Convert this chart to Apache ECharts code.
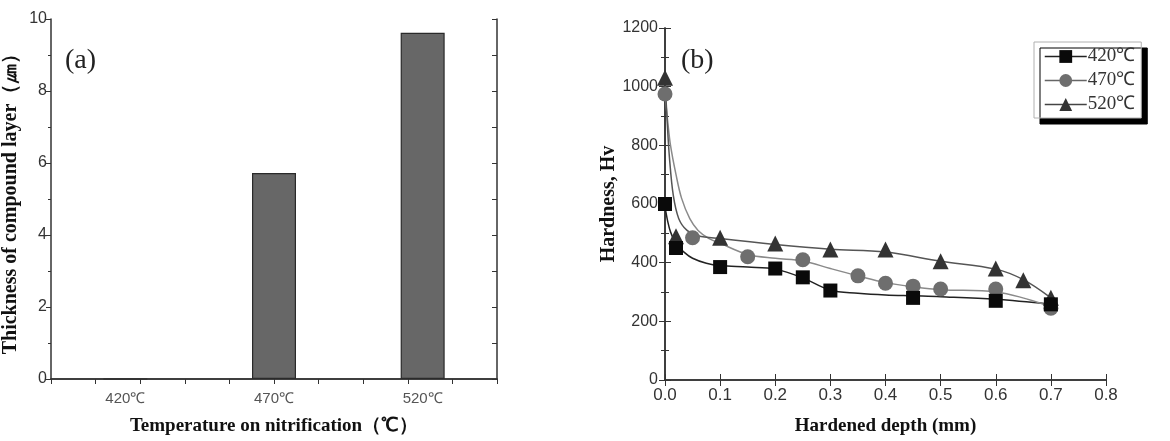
<!DOCTYPE html>
<html>
<head>
<meta charset="utf-8">
<script src="https://cdn.jsdelivr.net/npm/echarts@6/dist/echarts.min.js"></script>
<style>
  html, body { margin: 0; padding: 0; background: #fff; }
  #main { width: 1170px; height: 441px; }
</style>
</head>
<body>
<div id="main"></div>
<script>
// (a) thickness of compound layer
var tempCats = ['420℃', '470℃', '520℃'];
var thickness = [0, 5.72, 9.62];

// (b) hardness profile, measured points
var depth420 = [0, 0.02, 0.1, 0.2, 0.25, 0.3, 0.45, 0.6, 0.7];
var hv420 = [600, 450, 385, 380, 350, 305, 280, 270, 258];
var depth470 = [0, 0.05, 0.15, 0.25, 0.35, 0.4, 0.45, 0.5, 0.6, 0.7];
var hv470 = [975, 485, 420, 410, 355, 330, 320, 310, 310, 245];
var depth520 = [0, 0.02, 0.1, 0.2, 0.3, 0.4, 0.5, 0.6, 0.65, 0.7];
var hv520 = [1030, 490, 485, 465, 445, 445, 405, 380, 340, 280];

// fitted curves
var fitDepth420 = [0, 0.005, 0.01, 0.02, 0.035, 0.05, 0.075, 0.1, 0.15, 0.2, 0.25, 0.3, 0.35, 0.4, 0.45, 0.5, 0.6, 0.7];
var fitHv420 = [590, 540, 505, 465, 435, 415, 398, 390, 385, 378, 348, 306, 296, 290, 287, 284, 275, 258];
var fitDepth470 = [0, 0.005, 0.01, 0.02, 0.03, 0.045, 0.06, 0.08, 0.1, 0.15, 0.2, 0.25, 0.3, 0.35, 0.4, 0.45, 0.5, 0.6, 0.7];
var fitHv470 = [975, 880, 800, 700, 620, 550, 510, 482, 466, 428, 415, 406, 380, 355, 332, 318, 308, 300, 250];
var fitDepth520 = [0, 0.004, 0.008, 0.015, 0.025, 0.04, 0.06, 0.1, 0.2, 0.3, 0.4, 0.5, 0.6, 0.65, 0.7];
var fitHv520 = [1030, 880, 760, 630, 550, 510, 492, 482, 462, 446, 436, 405, 378, 342, 280];

function pairs(xs, ys) {
    return xs.map(function (x, i) { return [x, ys[i]]; });
}

var tickFont = 'Liberation Sans, Arial, sans-serif';
var titleFont = 'Liberation Serif, Times New Roman, serif';
var axisCol = '#333';

var myChart = echarts.init(document.getElementById('main'));

var option = {
    animation: false,
    backgroundColor: '#fff',
    title: [
        { text: '(a)', left: 60, top: 42, textStyle: { fontFamily: titleFont, fontSize: 28, fontWeight: 'normal', color: '#222' } },
        { text: '(b)', left: 676, top: 42, textStyle: { fontFamily: titleFont, fontSize: 28, fontWeight: 'normal', color: '#222' } }
    ],
    grid: [
        { left: 49, top: 19, width: 448, height: 367 },
        { left: 665, top: 28, width: 441, height: 359 }
    ],
    legend: {
        orient: 'vertical',
        left: 1034,
        top: 42,
        padding: [5, 6, 4, 10],
        itemGap: 5,
        itemWidth: 42,
        itemHeight: 16,
        backgroundColor: '#fff',
        borderColor: '#b0b0b0',
        borderWidth: 1,
        shadowColor: '#000',
        shadowBlur: 0,
        shadowOffsetX: 6,
        shadowOffsetY: 6,
        textStyle: { fontFamily: titleFont, fontSize: 19, color: '#333', padding: [0, 0, 0, -4] },
        data: [
            { name: '420℃', lineStyle: { opacity: 1, width: 1.5, color: '#222' } },
            { name: '470℃', lineStyle: { opacity: 1, width: 1.5, color: '#666' } },
            { name: '520℃', lineStyle: { opacity: 1, width: 1.5, color: '#444' } }
        ]
    },
    xAxis: [
        {
            gridIndex: 0, type: 'category', data: tempCats,
            axisLine: { lineStyle: { color: axisCol, width: 1.5 } },
            axisTick: { inside: true, alignWithLabel: true, length: 5, lineStyle: { color: axisCol } },
            axisLabel: { fontFamily: tickFont, fontSize: 15, color: '#555', margin: 12 },
            name: 'Temperature on nitrification（℃）', nameLocation: 'middle', nameGap: 38,
            nameTextStyle: { fontFamily: titleFont, fontSize: 19, fontWeight: 'bold', color: '#111' }
        },
        {
            gridIndex: 0, type: 'value', position: 'top', min: 0, max: 10, interval: 1,
            axisLine: { show: true, lineStyle: { color: axisCol, width: 1.5 } },
            axisTick: { inside: true, length: 5, lineStyle: { color: axisCol } },
            axisLabel: { show: false }, splitLine: { show: false }
        },
        {
            gridIndex: 1, type: 'value', min: 0, max: 0.8, interval: 0.1,
            axisLine: { lineStyle: { color: axisCol, width: 1.5 } },
            axisTick: { inside: true, length: 6, lineStyle: { color: axisCol } },
            axisLabel: { fontFamily: tickFont, fontSize: 17, color: '#333', margin: 7,
                formatter: function (v) { return v.toFixed(1); } },
            splitLine: { show: false },
            name: 'Hardened depth (mm)', nameLocation: 'middle', nameGap: 37,
            nameTextStyle: { fontFamily: titleFont, fontSize: 19, fontWeight: 'bold', color: '#111' }
        },
        {
            gridIndex: 1, type: 'value', position: 'top', min: 0, max: 0.8, interval: 0.1,
            axisLine: { show: true, lineStyle: { color: axisCol, width: 1.5 } },
            axisTick: { inside: true, length: 6, lineStyle: { color: axisCol } },
            axisLabel: { show: false }, splitLine: { show: false }
        }
    ],
    yAxis: [
        {
            gridIndex: 0, type: 'value', min: 0, max: 10, interval: 2,
            axisLine: { show: true, lineStyle: { color: axisCol, width: 1.5 } },
            axisTick: { show: true, length: 5, lineStyle: { color: axisCol } },
            minorTick: { show: true, splitNumber: 2, length: 3, lineStyle: { color: axisCol } },
            axisLabel: { fontFamily: tickFont, fontSize: 16, color: '#333', margin: 4 },
            splitLine: { show: false },
            name: 'Thickness of compound layer（㎛）', nameLocation: 'middle', nameGap: 30,
            nameTextStyle: { fontFamily: titleFont, fontSize: 20, fontWeight: 'bold', color: '#111' }
        },
        {
            gridIndex: 0, type: 'value', position: 'right', min: 0, max: 10, interval: 1,
            axisLine: { show: true, lineStyle: { color: axisCol, width: 1.5 } },
            axisTick: { inside: true, length: 5, lineStyle: { color: axisCol } },
            axisLabel: { show: false }, splitLine: { show: false }
        },
        {
            gridIndex: 1, type: 'value', min: 0, max: 1200, interval: 200,
            axisLine: { show: true, lineStyle: { color: axisCol, width: 1.5 } },
            axisTick: { inside: true, length: 6, lineStyle: { color: axisCol } },
            minorTick: { show: true, splitNumber: 2, length: 4, lineStyle: { color: axisCol } },
            axisLabel: { fontFamily: tickFont, fontSize: 16, color: '#333', margin: 7,
                formatter: function (v) { return String(v); } },
            splitLine: { show: false },
            name: 'Hardness, Hv', nameLocation: 'middle', nameGap: 44,
            nameTextStyle: { fontFamily: titleFont, fontSize: 20, fontWeight: 'bold', color: '#111' }
        },
        {
            gridIndex: 1, type: 'value', position: 'right', min: 0, max: 1200, interval: 200,
            axisLine: { show: true, lineStyle: { color: axisCol, width: 1.5 } },
            axisTick: { inside: true, length: 6, lineStyle: { color: axisCol } },
            minorTick: { show: true, splitNumber: 2, length: 4, lineStyle: { color: axisCol } },
            axisLabel: { show: false }, splitLine: { show: false }
        }
    ],
    series: [
        {
            name: 'thickness', type: 'bar', xAxisIndex: 0, yAxisIndex: 0,
            data: thickness, barWidth: 44,
            itemStyle: { color: '#676767', borderColor: '#2a2a2a', borderWidth: 1.2 }
        },
        // fitted curves
        {
            name: 'fit420', type: 'line', xAxisIndex: 2, yAxisIndex: 2, smooth: 0.35,
            showSymbol: false, data: pairs(fitDepth420, fitHv420),
            lineStyle: { color: '#222', width: 1.5 }, z: 2
        },
        {
            name: 'fit470', type: 'line', xAxisIndex: 2, yAxisIndex: 2, smooth: 0.35,
            showSymbol: false, data: pairs(fitDepth470, fitHv470),
            lineStyle: { color: '#8a8a8a', width: 1.5 }, z: 2
        },
        {
            name: 'fit520', type: 'line', xAxisIndex: 2, yAxisIndex: 2, smooth: 0.35,
            showSymbol: false, data: pairs(fitDepth520, fitHv520),
            lineStyle: { color: '#555', width: 1.5 }, z: 2
        },
        // measured points
        {
            name: '420℃', type: 'line', xAxisIndex: 2, yAxisIndex: 2,
            data: pairs(depth420, hv420), symbol: 'rect', symbolSize: 14,
            itemStyle: { color: '#0a0a0a' }, lineStyle: { opacity: 0 }, z: 5
        },
        {
            name: '470℃', type: 'line', xAxisIndex: 2, yAxisIndex: 2,
            data: pairs(depth470, hv470), symbol: 'circle', symbolSize: 15,
            itemStyle: { color: '#6e6e6e' }, lineStyle: { opacity: 0 }, z: 4
        },
        {
            name: '520℃', type: 'line', xAxisIndex: 2, yAxisIndex: 2,
            data: pairs(depth520, hv520), symbol: 'triangle', symbolSize: 16,
            itemStyle: { color: '#333' }, lineStyle: { opacity: 0 }, z: 3
        }
    ]
};
myChart.setOption(option);
</script>
</body>
</html>
